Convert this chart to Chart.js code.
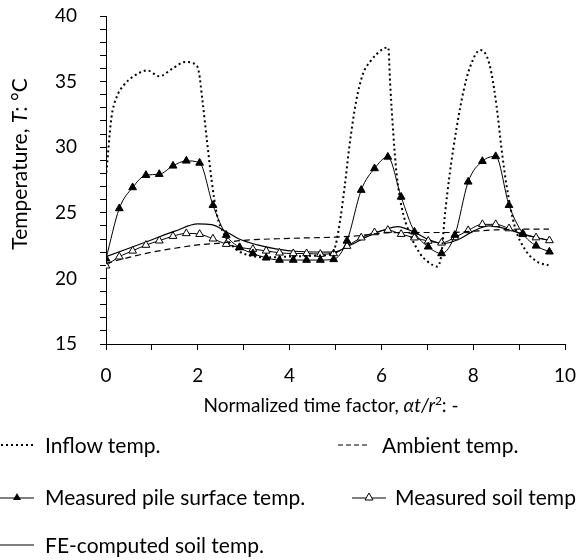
<!DOCTYPE html>
<html>
<head>
<meta charset="utf-8">
<script src="https://cdn.jsdelivr.net/npm/chart.js@4"></script>
<style>
  body { margin: 0; background: #fff; }
  #wrap { position: relative; width: 579px; height: 560px; font-family: Lato, sans-serif; color: #000; overflow: hidden; }
  #wrap canvas { position: absolute; left: 0; top: 0; }
  .txt { position: absolute; font-size: 21px; white-space: nowrap; line-height: 24px; }
  .ytitle { left: -131px; top: 152px; width: 300px; text-align: center; transform: rotate(-90deg); }
  .xtitle { left: 131px; top: 394px; width: 400px; text-align: center; font-size: 19px; line-height: 22px; }
  .xtitle sup { font-size: 12px; vertical-align: 7px; line-height: 0; }
  .sw { position: absolute; }
</style>
</head>
<body>
<div id="wrap">
  <canvas id="myChart" width="579" height="560"></canvas>
  <div class="txt ytitle">Temperature, <i>T</i>: °C</div>
  <div class="txt xtitle">Normalized time factor, <i>αt/r</i><sup>2</sup>: -</div>

  <svg class="sw" style="left:0;top:438px" width="34" height="14"><line x1="1" y1="7" x2="33" y2="7" stroke="#000" stroke-width="2" stroke-dasharray="2,3"/></svg>
  <div class="txt" style="left:45px;top:433px">Inflow temp.</div>
  <svg class="sw" style="left:337px;top:438px" width="34" height="14"><line x1="1" y1="7" x2="33" y2="7" stroke="#000" stroke-width="1.2" stroke-dasharray="5,3"/></svg>
  <div class="txt" style="left:382px;top:433px">Ambient temp.</div>

  <svg class="sw" style="left:0;top:490px" width="34" height="14"><line x1="0" y1="8" x2="34" y2="8" stroke="#000" stroke-width="1"/><polygon points="17,3 21,10 13,10" fill="#000"/></svg>
  <div class="txt" style="left:45px;top:485px">Measured pile surface temp.</div>
  <svg class="sw" style="left:352px;top:490px" width="34" height="14"><line x1="0" y1="8" x2="34" y2="8" stroke="#000" stroke-width="1"/><polygon points="17,3 21,10 13,10" fill="#fff" stroke="#000" stroke-width="1"/></svg>
  <div class="txt" style="left:395px;top:485px">Measured soil temp</div>

  <svg class="sw" style="left:0;top:538px" width="34" height="14"><line x1="0" y1="7" x2="34" y2="7" stroke="#000" stroke-width="1"/></svg>
  <div class="txt" style="left:45px;top:533px">FE-computed soil temp.</div>
</div>
<script>
// inflow temperature (dotted)
var inflowX = [0, 0.05, 0.12, 0.23, 0.38, 0.6, 0.9, 1.16, 1.45, 1.73, 1.95, 2.02, 2.1, 2.2, 2.3, 2.42, 2.57, 2.75, 2.93, 3.2, 3.5, 3.9, 4.3, 4.7, 4.92,
  5.0, 5.1, 5.2, 5.3, 5.45, 5.6, 5.75, 6.04, 6.15, 6.19, 6.26, 6.33, 6.44, 6.62, 6.84, 7.0, 7.13, 7.21, 7.31, 7.38, 7.49, 7.64, 7.79, 7.93, 8.15, 8.3, 8.4, 8.51, 8.62, 8.73, 8.91, 9.13, 9.38, 9.64];
var inflowY = [27.7, 29.8, 32.3, 33.8, 34.7, 35.4, 35.85, 35.4, 36.0, 36.5, 36.3, 35.8, 33.6, 30.5, 27.5, 24.8, 23.4, 22.5, 22.0, 21.7, 21.6, 21.65, 21.7, 21.75, 21.9,
  22.5, 24.4, 27.0, 30.0, 33.5, 35.6, 36.5, 37.5, 37.6, 34.9, 31.0, 28.0, 25.45, 23.4, 21.9, 21.3, 21.0, 20.9, 21.9, 24.7, 28.0, 31.5, 34.3, 36.1, 37.4, 36.9, 35.6, 33.1, 29.8, 27.0, 23.9, 22.2, 21.3, 21.0];

// ambient temperature (dashed)
var ambientX = [0, 0.5, 1.0, 1.5, 2.0, 2.5, 3.0, 4.0, 5.0, 5.5, 6.0, 6.5, 7.0, 7.5, 8.0, 8.5, 9.0, 9.65];
var ambientY = [21.15, 21.6, 22.0, 22.3, 22.55, 22.7, 22.9, 23.05, 23.15, 23.25, 23.45, 23.5, 23.5, 23.5, 23.6, 23.7, 23.75, 23.75];

// measurement times (both measured series)
var measX = [0, 0.29, 0.58, 0.87, 1.16, 1.46, 1.75, 2.04, 2.33, 2.62, 2.91, 3.2, 3.49, 3.78, 4.08, 4.37, 4.67, 4.96,
  5.25, 5.56, 5.85, 6.14, 6.43, 6.72, 7.02, 7.31, 7.6, 7.89, 8.2, 8.49, 8.78, 9.08, 9.37, 9.66];
var pileY = [21.5, 25.33, 26.93, 27.87, 27.94, 28.58, 28.96, 28.8, 25.58, 23.3, 22.36, 21.9, 21.57, 21.4, 21.4, 21.4, 21.4, 21.45,
  22.86, 26.73, 28.38, 29.26, 26.21, 23.55, 22.41, 21.9, 23.3, 27.36, 28.93, 29.3, 25.58, 23.43, 22.48, 22.03];
var soilY = [20.96, 21.65, 22.1, 22.54, 22.87, 23.22, 23.43, 23.37, 23.02, 22.61, 22.36, 22.23, 22.1, 21.95, 21.9, 21.9, 21.85, 21.9,
  22.46, 23.1, 23.5, 23.68, 23.37, 23.1, 22.85, 22.71, 23.12, 23.66, 24.12, 24.12, 23.8, 23.36, 23.11, 22.89];

// FE-computed soil temperature
var feX = [0, 0.5, 1.0, 1.5, 2.0, 2.3, 2.6, 2.9, 3.3, 3.7, 4.2, 4.96, 5.3, 5.7, 6.1, 6.35, 6.7, 7.0, 7.35, 7.7, 8.0, 8.35, 8.7, 9.0, 9.4, 9.66];
var feY = [21.65, 22.3, 22.95, 23.6, 24.15, 24.1, 23.6, 23.0, 22.55, 22.25, 22.05, 22.0, 22.5, 23.2, 23.75, 23.95, 23.55, 23.0, 22.65, 23.0, 23.6, 24.0, 23.8, 23.45, 23.1, 22.9];

function pts(xs, ys) {
  return xs.map(function (x, i) { return { x: x, y: ys[i] }; });
}

var font = { family: "Lato, sans-serif", size: 19 };

new Chart("myChart", {
  type: "scatter",
  data: {
    datasets: [
      { label: "Inflow temp.", data: pts(inflowX, inflowY), showLine: true, borderColor: "#000", borderWidth: 2,
        borderDash: [2, 3], pointRadius: 0, cubicInterpolationMode: "monotone" },
      { label: "Ambient temp.", data: pts(ambientX, ambientY), showLine: true, borderColor: "#000", borderWidth: 1.2,
        borderDash: [6, 4], pointRadius: 0, cubicInterpolationMode: "monotone" },
      { label: "Measured pile surface temp.", data: pts(measX, pileY), showLine: true, borderColor: "#000", borderWidth: 1,
        pointStyle: "triangle", pointRadius: 4.5, pointBackgroundColor: "#000", pointBorderColor: "#000", pointBorderWidth: 1,
        cubicInterpolationMode: "monotone" },
      { label: "Measured soil temp", data: pts(measX, soilY), showLine: true, borderColor: "#000", borderWidth: 1,
        pointStyle: "triangle", pointRadius: 4.5, pointBackgroundColor: "#fff", pointBorderColor: "#000", pointBorderWidth: 1,
        cubicInterpolationMode: "monotone" },
      { label: "FE-computed soil temp.", data: pts(feX, feY), showLine: true, borderColor: "#000", borderWidth: 1.2,
        pointRadius: 0, cubicInterpolationMode: "monotone" }
    ]
  },
  options: {
    responsive: false,
    animation: false,
    events: [],
    layout: { padding: { top: 16, right: 14, bottom: 0, left: 0 } },
    plugins: { legend: { display: false }, tooltip: { enabled: false } },
    scales: {
      x: {
        type: "linear", min: 0, max: 10,
        afterFit: function (s) { s.height = 216; s.paddingLeft = 0; s.paddingRight = 0; },
        border: { color: "#000", width: 1 },
        grid: { drawOnChartArea: false, drawTicks: true, tickLength: 6, tickColor: "#000" },
        ticks: { stepSize: 1, autoSkip: false, maxRotation: 0, padding: 14, color: "#000", font: font,
          callback: function (v) { return v % 2 === 0 ? v : ""; } }
      },
      y: {
        min: 15, max: 40,
        afterFit: function (s) { s.width = 106; s.paddingTop = 0; s.paddingBottom = 0; },
        border: { color: "#000", width: 1 },
        grid: { drawOnChartArea: false, drawTicks: true, tickLength: 6, tickColor: "#000" },
        ticks: { stepSize: 1, autoSkip: false, padding: 23, color: "#000", font: font,
          callback: function (v) { return v % 5 === 0 ? v : ""; } }
      }
    }
  }
});
</script>
</body>
</html>
